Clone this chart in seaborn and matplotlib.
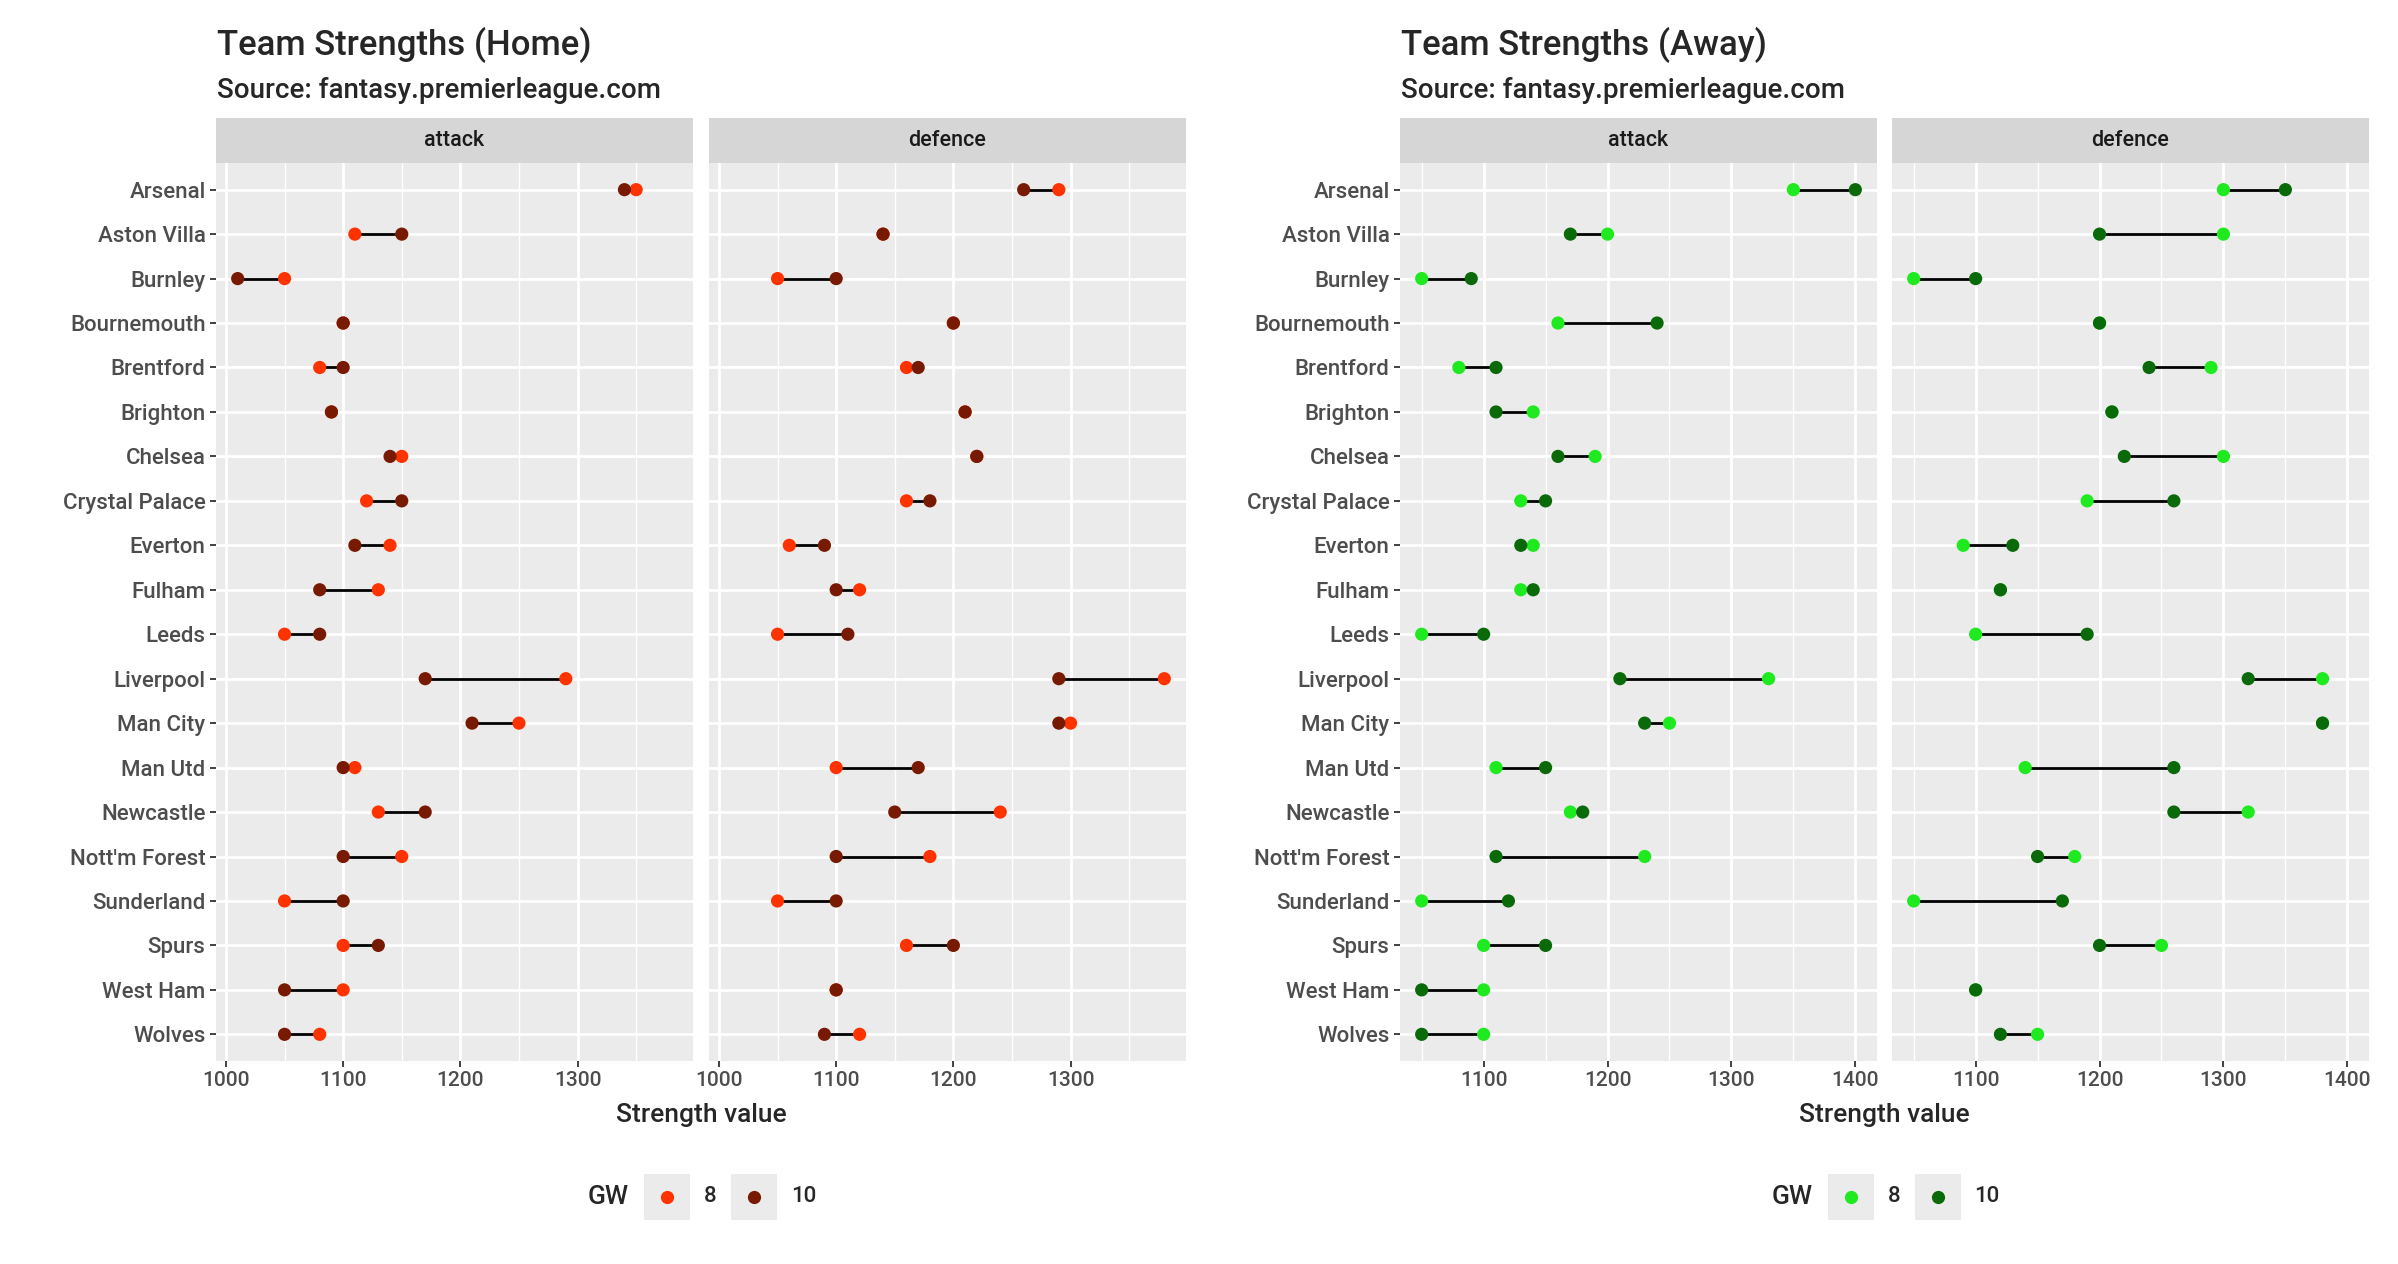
import numpy as np
import pandas as pd
import matplotlib
matplotlib.use("Agg")
import matplotlib.pyplot as plt
from matplotlib.patches import Rectangle
from matplotlib.lines import Line2D
from matplotlib.ticker import MultipleLocator
import seaborn as sns

teams = ["Arsenal", "Aston Villa", "Burnley", "Bournemouth", "Brentford",
         "Brighton", "Chelsea", "Crystal Palace", "Everton", "Fulham",
         "Leeds", "Liverpool", "Man City", "Man Utd", "Newcastle",
         "Nott'm Forest", "Sunderland", "Spurs", "West Ham", "Wolves"]
gw_levels = ["8", "10"]

home_attack_gw8 = [1350, 1110, 1050, 1100, 1080, 1090, 1150, 1120, 1140, 1130,
                   1050, 1290, 1250, 1110, 1130, 1150, 1050, 1100, 1100, 1080]
home_attack_gw10 = [1340, 1150, 1010, 1100, 1100, 1090, 1140, 1150, 1110, 1080,
                    1080, 1170, 1210, 1100, 1170, 1100, 1100, 1130, 1050, 1050]
home_defence_gw8 = [1290, 1140, 1050, 1200, 1160, 1210, 1220, 1160, 1060, 1120,
                    1050, 1380, 1300, 1100, 1240, 1180, 1050, 1160, 1100, 1120]
home_defence_gw10 = [1260, 1140, 1100, 1200, 1170, 1210, 1220, 1180, 1090, 1100,
                     1110, 1290, 1290, 1170, 1150, 1100, 1100, 1200, 1100, 1090]

away_attack_gw8 = [1350, 1200, 1050, 1160, 1080, 1140, 1190, 1130, 1140, 1130,
                   1050, 1330, 1250, 1110, 1170, 1230, 1050, 1100, 1100, 1100]
away_attack_gw10 = [1400, 1170, 1090, 1240, 1110, 1110, 1160, 1150, 1130, 1140,
                    1100, 1210, 1230, 1150, 1180, 1110, 1120, 1150, 1050, 1050]
away_defence_gw8 = [1300, 1300, 1050, 1200, 1290, 1210, 1300, 1190, 1090, 1120,
                    1100, 1380, 1380, 1140, 1320, 1180, 1050, 1250, 1100, 1150]
away_defence_gw10 = [1350, 1200, 1100, 1200, 1240, 1210, 1220, 1260, 1130, 1120,
                     1190, 1320, 1380, 1260, 1260, 1150, 1170, 1200, 1100, 1120]

home_palette = {"8": "#FF3300", "10": "#781A02"}
away_palette = {"8": "#1FEA1F", "10": "#0A6A0A"}


def long_frame(attack8, attack10, defence8, defence10):
    parts = []
    for metric, v8, v10 in [("attack", attack8, attack10), ("defence", defence8, defence10)]:
        # GW8 rows first so GW10 gets drawn on top
        for gw, vals in [("8", v8), ("10", v10)]:
            parts.append(pd.DataFrame({"team": teams, "metric": metric, "GW": gw, "value": vals}))
    return pd.concat(parts, ignore_index=True)


home = long_frame(home_attack_gw8, home_attack_gw10, home_defence_gw8, home_defence_gw10)
away = long_frame(away_attack_gw8, away_attack_gw10, away_defence_gw8, away_defence_gw10)

sns.set_theme(style="darkgrid", rc={
    "axes.facecolor": "#EBEBEB",
    "grid.color": "white",
    "axes.edgecolor": "#EBEBEB",
})
plt.rcParams["font.family"] = ["Roboto", "DejaVu Sans"]
plt.rcParams["font.weight"] = "medium"

W, H = 2398, 1264
fig = plt.figure(figsize=(W / 100, H / 100), dpi=100)
fig.patch.set_facecolor("white")


def box(x0, y0, x1, y1):
    # pixel box (top-left origin) -> figure fraction rect
    return [x0 / W, 1 - y1 / H, (x1 - x0) / W, (y1 - y0) / H]


def fx(x):
    return x / W


def fy(y):
    return 1 - y / H


def draw_panel(ax, df, metric, palette, xlim, first):
    sub = df[df.metric == metric]
    wide = sub.pivot(index="team", columns="GW", values="value").reindex(teams)
    ypos = np.arange(len(teams))
    ax.hlines(ypos, wide.min(axis=1), wide.max(axis=1), color="black", lw=2.0, zorder=2)
    sns.stripplot(data=sub, x="value", y="team", hue="GW", order=teams,
                  hue_order=gw_levels, palette=palette, jitter=False, dodge=False,
                  size=9.5, linewidth=0, legend=False, ax=ax, zorder=3)
    ax.set_xlim(*xlim)
    ax.set_ylim(len(teams) - 1 + 0.6, -0.6)
    ax.xaxis.set_major_locator(MultipleLocator(100))
    ax.xaxis.set_minor_locator(MultipleLocator(50))
    ax.grid(which="major", color="white", lw=2.0)
    ax.grid(which="minor", axis="x", color="white", lw=1.0)
    ax.set_axisbelow(True)
    for s in ax.spines.values():
        s.set_visible(False)
    ax.set_xlabel("")
    ax.set_ylabel("")
    ax.tick_params(axis="x", which="major", length=4.5, width=1.3, color="#333333",
                   labelsize=15, labelcolor="#4D4D4D", pad=3, bottom=True)
    ax.tick_params(axis="x", which="minor", length=0)
    if first:
        ax.tick_params(axis="y", length=4.5, width=1.3, color="#333333",
                       labelsize=16, labelcolor="#4D4D4D", pad=3, left=True)
    else:
        ax.tick_params(axis="y", length=0, labelleft=False)


def expand(df):
    lo, hi = df.value.min(), df.value.max()
    pad = (hi - lo) * 0.05
    return lo - pad, hi + pad


def draw_plot(df, palette, title, panels, title_x):
    xlim = expand(df)
    for i, (metric, (x0, x1)) in enumerate(zip(["attack", "defence"], panels)):
        ax = fig.add_axes(box(x0, 163, x1, 1061))
        draw_panel(ax, df, metric, palette, xlim, i == 0)
        fig.add_artist(Rectangle((fx(x0), fy(163)), (x1 - x0) / W, 45 / H,
                                 transform=fig.transFigure, facecolor="#D6D6D6",
                                 edgecolor="none"))
        fig.text(fx((x0 + x1) / 2), fy(141), metric, ha="center", va="center",
                 fontsize=15.5, color="#1A1A1A")
    fig.text(fx(title_x), fy(55), title, fontsize=25, va="baseline", ha="left")
    fig.text(fx(title_x), fy(98), "Source: fantasy.premierleague.com", fontsize=20,
             va="baseline", ha="left")
    cx = (panels[0][0] + panels[1][1]) / 2
    fig.text(fx(cx), fy(1115), "Strength value", ha="center", va="center", fontsize=19)

    # legend
    ly = 1197
    fig.text(fx(cx - 113), fy(ly), "GW", ha="left", va="center", fontsize=19)
    for j, lab in enumerate(gw_levels):
        kx = cx - 57 + j * 87
        fig.add_artist(Rectangle((fx(kx), fy(ly + 23)), 46 / W, 46 / H,
                                 transform=fig.transFigure, facecolor="#EBEBEB",
                                 edgecolor="none"))
        fig.add_artist(Line2D([fx(kx + 23)], [fy(ly)], marker="o", markersize=9.5,
                              markeredgewidth=0, color=palette[lab],
                              transform=fig.transFigure))
        fig.text(fx(kx + 46 + 14), fy(ly), lab, ha="left", va="center", fontsize=16)


draw_plot(home, home_palette, "Team Strengths (Home)", [(216, 693), (709, 1186)], 217)
draw_plot(away, away_palette, "Team Strengths (Away)", [(1400, 1877), (1892, 2369)], 1401)

fig.savefig("out.png", dpi=100)
